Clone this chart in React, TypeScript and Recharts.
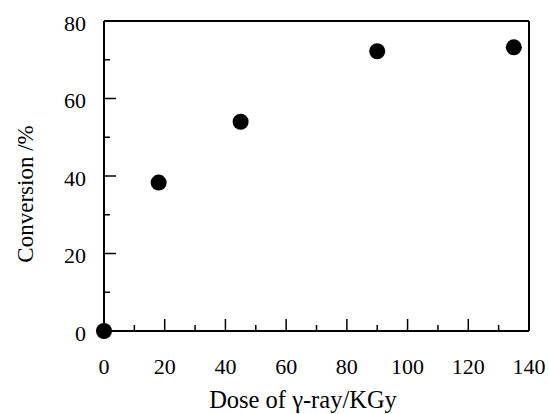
import React from "react";
import { ScatterChart, Scatter, XAxis, YAxis, ReferenceLine } from "recharts";

const doseValues = [0, 18, 45, 90, 135];
const conversionValues = [0, 38.3, 54.0, 72.2, 73.2];
const xTicks = [0, 10, 20, 30, 40, 50, 60, 70, 80, 90, 100, 110, 120, 130, 140];
const yTicks = [0, 10, 20, 30, 40, 50, 60, 70, 80];
const xTitle = "Dose of γ-ray/KGy";
const yTitle = "Conversion /%";

const data = doseValues.map((d, i) => ({ dose: d, conv: conversionValues[i] }));

const FONT = '"Liberation Serif", "Times New Roman", serif';

const XTick = (props: any) => {
  const { x, y, payload } = props;
  const v = payload.value;
  const major = v % 20 === 0;
  return (
    <g>
      <line x1={x} x2={x} y1={y} y2={y - (major ? 12 : 6)} stroke="#000" strokeWidth={1.5} />
      {major && (
        <text x={x} y={y + 43} textAnchor="middle" fontFamily={FONT} fontSize={22} fill="#000">
          {v}
        </text>
      )}
    </g>
  );
};

const YTick = (props: any) => {
  const { x, y, payload } = props;
  const v = payload.value;
  const major = v % 20 === 0;
  return (
    <g>
      <line x1={x} x2={x + (major ? 12 : 6)} y1={y} y2={y} stroke="#000" strokeWidth={1.5} />
      {major && (
        <text x={x - 18} y={y + 9.5} textAnchor="end" fontFamily={FONT} fontSize={22} fill="#000">
          {v}
        </text>
      )}
    </g>
  );
};

const Dot = (props: any) => <circle cx={props.cx} cy={props.cy} r={8} fill="#000" />;

export default function App() {
  return (
    <div style={{ position: "fixed", left: 0, top: 0, width: 549, height: 414, background: "#fff" }}>
      <ScatterChart
        width={549}
        height={414}
        margin={{ top: 21, right: 20, bottom: 23, left: 44 }}
      >
        <XAxis
          type="number"
          dataKey="dose"
          domain={[0, 140]}
          ticks={xTicks}
          interval={0}
          tickSize={0}
          tickMargin={0}
          height={60}
          tickLine={false}
          axisLine={{ stroke: "#000", strokeWidth: 2 }}
          tick={<XTick />}
          label={{
            content: () => (
              <text x={303} y={408} textAnchor="middle" fontFamily={FONT} fontSize={24.5} fill="#000">
                {xTitle}
              </text>
            ),
          }}
        />
        <YAxis
          type="number"
          dataKey="conv"
          domain={[0, 80]}
          ticks={yTicks}
          interval={0}
          tickSize={0}
          tickMargin={0}
          width={60}
          tickLine={false}
          axisLine={{ stroke: "#000", strokeWidth: 2 }}
          tick={<YTick />}
          label={{
            content: () => (
              <text
                x={33}
                y={194}
                transform="rotate(-90 33 194)"
                textAnchor="middle"
                fontFamily={FONT}
                fontSize={23}
                fill="#000"
              >
                {yTitle}
              </text>
            ),
          }}
        />
        <ReferenceLine y={80} stroke="#000" strokeWidth={2} />
        <ReferenceLine x={140} stroke="#000" strokeWidth={2} />
        <Scatter data={data} shape={<Dot />} isAnimationActive={false} />
      </ScatterChart>
    </div>
  );
}
